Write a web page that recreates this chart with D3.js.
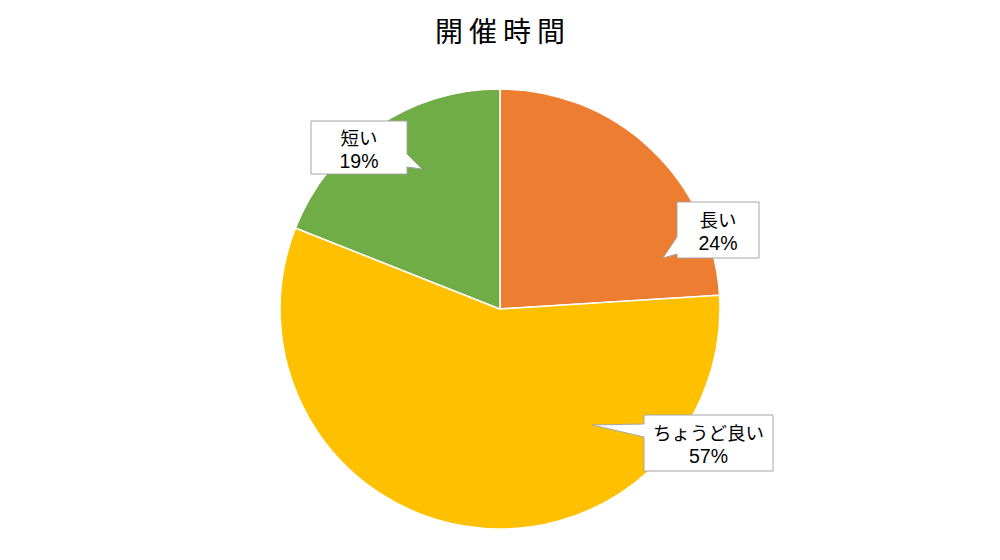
<!DOCTYPE html>
<html><head><meta charset="utf-8">
<script src="https://cdn.jsdelivr.net/npm/d3@7/dist/d3.min.js"></script>
<style>body{margin:0;background:#fff;}svg{display:block;}</style>
</head><body>
<svg id="c" width="1000" height="560"></svg>
<script>
const categories = ["長い", "ちょうど良い", "短い"];
const values = [24, 57, 19];
const colors = ["#ED7D31", "#FFC000", "#70AD47"];
const title = "開催時間";

// callout layout: box x,y,w,h ; pointer side, base range, tip
const callouts = [
  {x:677, y:202, w:82, h:56, side:"left", b0:237, b1:254, tip:[663,258]},
  {x:644, y:415, w:129, h:56, side:"left", b0:424, b1:437, tip:[592,425]},
  {x:311, y:121, w:96, h:53, side:"right", b0:154, b1:167, tip:[422,169]}
];

const svg = d3.select("#c");
const font = "'Noto Sans CJK JP','Noto Sans',sans-serif";
const latin = "'Liberation Sans','Noto Sans CJK JP',sans-serif";
svg.append("text").attr("x", 500 + 3).attr("y", 42).attr("text-anchor","middle")
  .attr("font-family", font).attr("font-size", 28).attr("letter-spacing", 6).attr("fill","#000")
  .text(title);

const cx = 500, cy = 309, r = 220;
const pie = d3.pie().sort(null).value(d => d)(values);
const arc = d3.arc().innerRadius(0).outerRadius(r);
const g = svg.append("g").attr("transform", `translate(${cx},${cy})`);
g.selectAll("path").data(pie).join("path")
  .attr("d", arc).attr("fill", (d,i) => colors[i])
  .attr("stroke", "#fff").attr("stroke-width", 1.5).attr("stroke-linejoin","round");

callouts.forEach((c, i) => {
  let p;
  const {x, y, w, h} = c;
  if (c.side === "left") {
    p = `M${x},${y}H${x+w}V${y+h}H${x}V${c.b1}L${c.tip[0]},${c.tip[1]}L${x},${c.b0}Z`;
  } else {
    p = `M${x},${y}H${x+w}V${c.b0}L${c.tip[0]},${c.tip[1]}L${x+w},${c.b1}V${y+h}H${x}Z`;
  }
  svg.append("path").attr("d", p).attr("fill", "#fff").attr("stroke", "#A6A6A6").attr("stroke-width", 1);
  svg.append("text").attr("text-anchor","middle").attr("font-family", font)
    .attr("font-size", 18.5).attr("fill", "#000")
    .attr("x", x + w/2).attr("y", y + h/2 - 3).text(categories[i]);
  svg.append("text").attr("text-anchor","middle").attr("font-family", latin)
    .attr("font-size", 19.5).attr("fill", "#000")
    .attr("x", x + w/2).attr("y", y + h/2 + 20).text(values[i] + "%");
});
</script>
</body></html>
